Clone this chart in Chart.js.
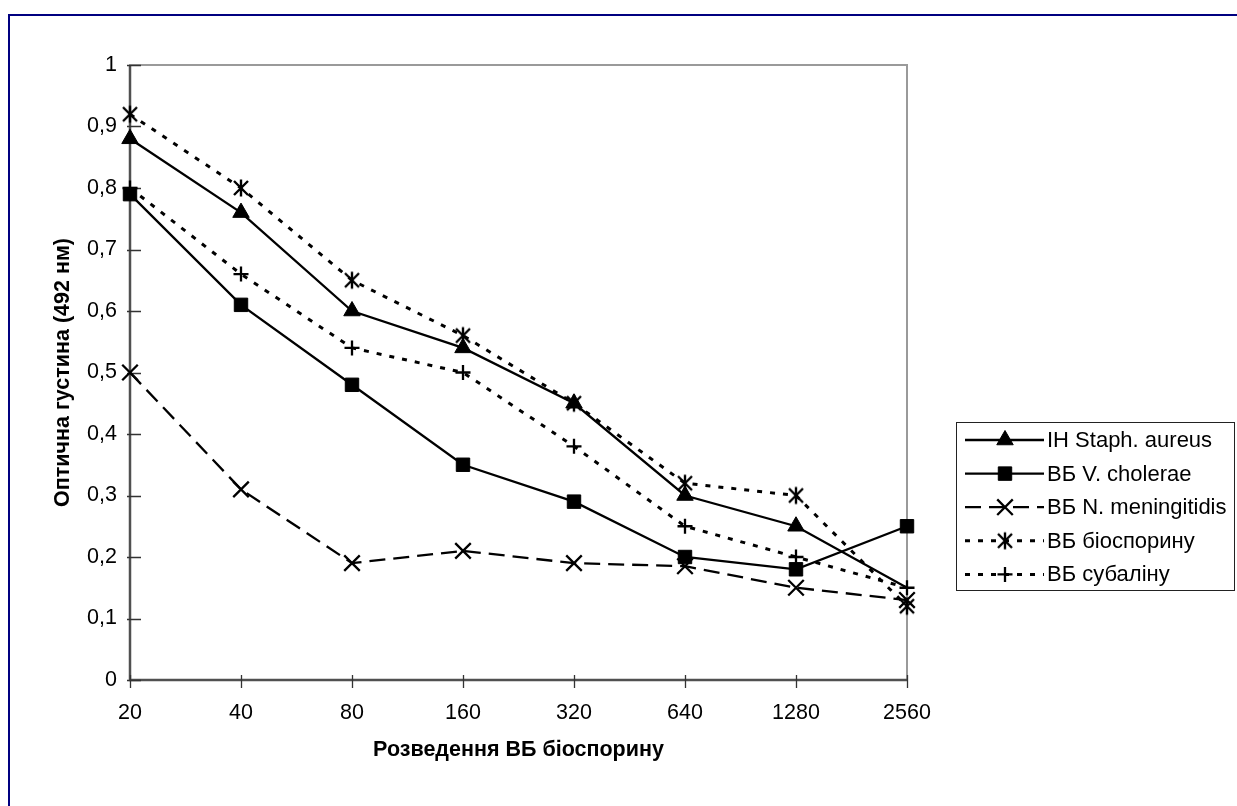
<!DOCTYPE html>
<html>
<head>
<meta charset="utf-8">
<script src="https://cdn.jsdelivr.net/npm/chart.js@4"></script>
<style>
html,body{margin:0;padding:0;background:#fff;}
#wrap{width:1237px;height:806px;position:relative;}
</style>
</head>
<body>
<div id="wrap"><canvas id="c" width="1237" height="806"></canvas></div>
<script>
const categories = ['20','40','80','160','320','640','1280','2560'];
const seriesNames = ['ІН Staph. aureus','ВБ V. cholerae','ВБ N. meningitidis','ВБ біоспорину','ВБ субаліну'];
const staph     = [0.88, 0.76, 0.60, 0.54, 0.45, 0.30, 0.25, 0.15];
const cholerae  = [0.79, 0.61, 0.48, 0.35, 0.29, 0.20, 0.18, 0.25];
const mening    = [0.50, 0.31, 0.19, 0.21, 0.19, 0.185, 0.15, 0.13];
const biosporin = [0.92, 0.80, 0.65, 0.56, 0.45, 0.32, 0.30, 0.12];
const subalin   = [0.80, 0.66, 0.54, 0.50, 0.38, 0.25, 0.20, 0.15];
const yTickValues = [0,0.1,0.2,0.3,0.4,0.5,0.6,0.7,0.8,0.9,1];
const xTitle = 'Розведення ВБ біоспорину';
const yTitle = 'Оптична густина (492 нм)';

const FONT = "'Liberation Sans', Arial, sans-serif";
const FS = 21.5;
const LFS = 22;

// Excel-like star marker (X with a vertical bar)
function makeStar(){
  const s = 20, c = document.createElement('canvas');
  c.width = s; c.height = s;
  const g = c.getContext('2d');
  g.strokeStyle = '#000'; g.lineWidth = 2.4; g.lineCap = 'butt';
  g.beginPath();
  g.moveTo(3,3); g.lineTo(17,17);
  g.moveTo(17,3); g.lineTo(3,17);
  g.moveTo(10,1.5); g.lineTo(10,18.5);
  g.stroke();
  return c;
}
const starImg = makeStar();

const styles = [
  {pointStyle:'triangle', radius:9.5, dash:[], width:2.3},
  {pointStyle:'rect', radius:9.5, dash:[], width:2.3},
  {pointStyle:'crossRot', radius:11, dash:[16,8], width:2.3},
  {pointStyle:starImg, radius:9, dash:[5,8], width:3},
  {pointStyle:'cross', radius:7.5, dash:[5,8], width:3}
];
const values = [staph, cholerae, mening, biosporin, subalin];

const datasets = values.map((v,i)=>({
  label: seriesNames[i],
  data: v,
  borderColor:'#000',
  backgroundColor:'#000',
  borderWidth: styles[i].width,
  borderDash: styles[i].dash,
  pointStyle: styles[i].pointStyle,
  pointRadius: i===0 ? v.map((_,k)=> k===v.length-1 ? 0 : styles[i].radius) : styles[i].radius,
  pointBorderWidth: (i===2||i===4) ? 2.3 : 1,
  pointBackgroundColor:'#000',
  pointBorderColor:'#000',
  tension:0,
  clip:false
}));

const decor = {
  id:'decor',
  beforeDraw(chart){
    const {ctx} = chart;
    ctx.save();
    ctx.fillStyle = '#fff';
    ctx.fillRect(0,0,chart.width,chart.height);
    ctx.strokeStyle = '#000080';
    ctx.lineWidth = 2;
    ctx.beginPath();
    ctx.moveTo(9, 806); ctx.lineTo(9, 15); ctx.lineTo(1237, 15);
    ctx.stroke();
    ctx.restore();
  },
  beforeDatasetsDraw(chart){
    const {ctx, chartArea:a, scales} = chart;
    ctx.save();
    ctx.strokeStyle = '#9a9a9a';
    ctx.lineWidth = 2;
    ctx.strokeRect(a.left, a.top, a.right-a.left, a.bottom-a.top);
    ctx.strokeStyle = '#505050';
    ctx.lineWidth = 2.5;
    ctx.beginPath();
    ctx.moveTo(a.left, a.top); ctx.lineTo(a.left, a.bottom); ctx.lineTo(a.right, a.bottom);
    ctx.stroke();
    ctx.strokeStyle = '#333';
    ctx.lineWidth = 1.3;
    ctx.beginPath();
    yTickValues.forEach(v=>{
      const y = Math.round(scales.y.getPixelForValue(v)) + 0.5;
      ctx.moveTo(a.left-3, y); ctx.lineTo(a.left+11, y);
    });
    categories.forEach((c,i)=>{
      const x = Math.round(scales.x.getPixelForValue(i)) + 0.5;
      ctx.moveTo(x, a.bottom-5); ctx.lineTo(x, a.bottom+8);
    });
    ctx.stroke();
    ctx.restore();
  },
  afterDraw(chart){
    const {ctx} = chart;
    ctx.save();
    const bx = 956, by = 422, bw = 278, bh = 168;
    ctx.strokeStyle = '#222';
    ctx.lineWidth = 1;
    ctx.strokeRect(bx+0.5, by+0.5, bw, bh);
    const rowH = 33.6;
    ctx.font = LFS + 'px ' + FONT;
    ctx.textBaseline = 'middle';
    ctx.textAlign = 'left';
    chart.data.datasets.forEach((ds,i)=>{
      const y = by + 18 + i*rowH;
      ctx.strokeStyle = '#000';
      ctx.lineWidth = ds.borderWidth;
      ctx.setLineDash(ds.borderDash);
      ctx.beginPath();
      ctx.moveTo(965, y); ctx.lineTo(1044, y);
      ctx.stroke();
      ctx.setLineDash([]);
      ctx.fillStyle = '#000';
      ctx.lineWidth = ds.pointBorderWidth;
      Chart.helpers.drawPoint(ctx, {pointStyle: ds.pointStyle, radius: styles[i].radius, borderWidth: ds.pointBorderWidth, rotation:0}, 1005, y);
      ctx.fillStyle = '#000';
      ctx.fillText(ds.label, 1047, y+1);
    });
    ctx.restore();
  }
};

new Chart(document.getElementById('c'), {
  type:'line',
  data:{labels:categories, datasets},
  plugins:[decor],
  options:{
    responsive:false,
    animation:false,
    events:[],
    layout:{padding:{left:50, right:330, top:65, bottom:0}},
    plugins:{legend:{display:false}, tooltip:{enabled:false}, title:{display:false}},
    scales:{
      x:{
        type:'category',
        offset:false,
        grid:{display:false, drawTicks:false},
        border:{display:false},
        ticks:{color:'#000', font:{family:FONT, size:FS}, padding:20, maxRotation:0, autoSkip:false},
        title:{display:true, text:xTitle, color:'#000', font:{family:FONT, size:FS, weight:'bold'}, padding:{top:0,bottom:43}},
        afterFit(s){ s.height = 126; }
      },
      y:{
        min:0, max:1,
        afterBuildTicks(s){ s.ticks = yTickValues.map(v=>({value:v})); },
        grid:{display:false, drawTicks:false},
        border:{display:false},
        ticks:{color:'#000', font:{family:FONT, size:FS}, padding:13,
          callback(v){ return String(Math.round(v*10)/10).replace('.', ','); }},
        title:{display:true, text:yTitle, color:'#000', font:{family:FONT, size:FS, weight:'bold'}, padding:{top:0,bottom:0}},
        afterFit(s){ s.width = 80; }
      }
    }
  }
});
</script>
</body>
</html>
